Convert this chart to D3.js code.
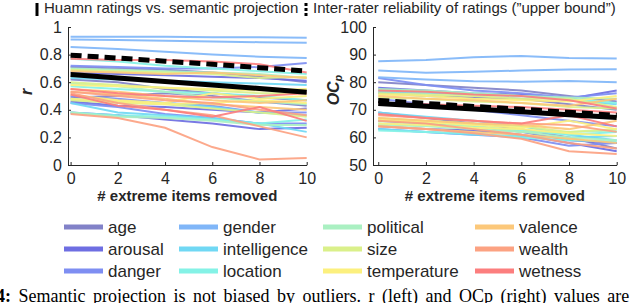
<!DOCTYPE html>
<html>
<head>
<meta charset="utf-8">
<script src="https://cdn.jsdelivr.net/npm/d3@7"></script>
<style>
body {margin:0; background:#fff;}
svg {display:block; font-family:"Liberation Sans", Arial, sans-serif;}
</style>
</head>
<body>
<svg id="chart" width="640" height="303"></svg>
<script>

//x positions (number of extreme items removed)
var x_steps = [0, 2, 4, 6, 8, 10];

//features and their colours (legend order)
var features = ["age", "arousal", "danger", "gender", "intelligence", "location",
                "political", "size", "temperature", "valence", "wealth", "wetness"];
var feature_colours = ["#8282c8", "#6e6ee2", "#7e8ef2", "#80b6f8", "#70d8f4", "#84f2e6",
                       "#aaf0c2", "#daf08a", "#fcf07e", "#fcc87a", "#fca282", "#fc7e7e"];

//left panel - r values, one array per feature (several category lines each)
var r_age = [[0.71, 0.70, 0.69, 0.67, 0.64, 0.60], [0.49, 0.50, 0.52, 0.50, 0.46, 0.43], [0.62, 0.60, 0.55, 0.52, 0.49, 0.47]];
var r_arousal = [[0.67, 0.66, 0.65, 0.64, 0.63, 0.61], [0.46, 0.43, 0.42, 0.40, 0.38, 0.41], [0.38, 0.36, 0.33, 0.30, 0.26, 0.27]];
var r_danger = [[0.72, 0.71, 0.70, 0.70, 0.71, 0.74], [0.50, 0.48, 0.45, 0.43, 0.38, 0.38], [0.45, 0.42, 0.37, 0.34, 0.30, 0.30]];
var r_gender = [[0.93, 0.93, 0.93, 0.925, 0.925, 0.922], [0.91, 0.905, 0.90, 0.895, 0.89, 0.885], [0.855, 0.84, 0.82, 0.80, 0.785, 0.775]];
var r_intelligence = [[0.63, 0.62, 0.61, 0.60, 0.59, 0.58], [0.48, 0.46, 0.45, 0.42, 0.38, 0.36], [0.45, 0.38, 0.36, 0.34, 0.30, 0.24]];
var r_location = [[0.77, 0.75, 0.72, 0.70, 0.68, 0.66], [0.57, 0.55, 0.53, 0.52, 0.50, 0.47], [0.38, 0.36, 0.35, 0.33, 0.30, 0.33]];
var r_political = [[0.70, 0.69, 0.68, 0.67, 0.66, 0.63], [0.59, 0.57, 0.53, 0.49, 0.46, 0.44], [0.38, 0.35, 0.34, 0.32, 0.29, 0.29]];
var r_size = [[0.69, 0.68, 0.67, 0.66, 0.63, 0.64], [0.60, 0.58, 0.56, 0.54, 0.52, 0.52], [0.47, 0.45, 0.44, 0.41, 0.38, 0.35]];
var r_temperature = [[0.58, 0.57, 0.56, 0.55, 0.54, 0.55], [0.51, 0.47, 0.45, 0.52, 0.48, 0.50], [0.48, 0.46, 0.44, 0.45, 0.47, 0.45]];
var r_valence = [[0.68, 0.67, 0.66, 0.67, 0.65, 0.63], [0.55, 0.53, 0.50, 0.47, 0.45, 0.47], [0.53, 0.51, 0.48, 0.44, 0.42, 0.40]];
var r_wealth = [[0.37, 0.34, 0.27, 0.13, 0.04, 0.05], [0.53, 0.50, 0.47, 0.45, 0.40, 0.36], [0.52, 0.45, 0.40, 0.36, 0.28, 0.20]];
var r_wetness = [[0.77, 0.76, 0.76, 0.75, 0.73, 0.67], [0.51, 0.43, 0.40, 0.35, 0.42, 0.32], [0.55, 0.52, 0.50, 0.49, 0.50, 0.52]];
var r_mean = [0.655, 0.63, 0.605, 0.58, 0.555, 0.528];
var r_bound = [0.796, 0.775, 0.752, 0.73, 0.705, 0.68];
var r_ticks = [0, 0.2, 0.4, 0.6, 0.8, 1];

//right panel - OCp values
var ocp_age = [[80, 79, 78, 77, 75, 73], [69, 67, 65, 63, 60, 56], [76, 75, 74.5, 74, 72, 70]];
var ocp_arousal = [[78, 77, 76, 75.5, 74, 77], [66, 65, 64, 62, 59, 58], [64, 63, 62.5, 61, 58, 55]];
var ocp_danger = [[81.5, 79, 77, 76, 74.5, 76], [74, 72, 70, 68, 66, 64], [63, 62, 61, 60, 57, 58]];
var ocp_gender = [[87.6, 88, 89, 89.5, 88.8, 88.6], [84.2, 83.4, 83.8, 84.2, 84.6, 84.7], [81.8, 81, 80.3, 80.2, 80.4, 80]];
var ocp_intelligence = [[76.5, 76, 75.5, 75, 73.5, 72], [69, 67.5, 66, 64, 61, 59], [63, 62, 61, 60.5, 60, 60.5]];
var ocp_location = [[77, 76.5, 76, 75, 74, 72.5], [65, 64.5, 64, 62.5, 61, 62], [62.5, 62, 61.5, 60, 59, 58.5]];
var ocp_political = [[77.5, 77, 76, 75, 74.5, 74], [66, 65.5, 64, 62, 62, 62.5], [64.5, 64, 63, 62, 60, 59]];
var ocp_size = [[76, 75.5, 75, 74, 74, 71], [67, 66, 65, 64, 62, 63], [74.5, 74, 73, 72.5, 71, 70.5]];
var ocp_temperature = [[75.5, 75, 74, 73.5, 73, 75], [66.5, 65.5, 64.5, 63.5, 66, 63], [65, 64.5, 63.5, 63, 61.5, 60.5]];
var ocp_valence = [[75, 74, 73.5, 72.5, 71.5, 74], [64, 63, 62, 61, 59.5, 58], [67, 66, 65, 64.5, 63, 66]];
var ocp_wealth = [[66, 65, 63, 61, 58, 56], [64, 63, 61.5, 59.5, 55, 54], [68, 67, 66, 65, 64.5, 62]];
var ocp_wetness = [[68.5, 67, 66, 65, 68, 64], [77, 76.5, 75.5, 75, 73.5, 70.5], [72.5, 72, 71.5, 71, 70, 69]];
var ocp_mean = [72.3, 71.3, 70.3, 69.3, 68.2, 67.2];
var ocp_bound = [73.4, 72.3, 71.2, 70.2, 69.1, 68];
var ocp_ticks = [50, 60, 70, 80, 90, 100];

var text_colour = "#262626";

//build line tables from the arrays above
function make_lines(groups) {
    var out = [];
    groups.forEach(function(g, i) {
        g.forEach(function(v) { out.push({feature: features[i], colour: feature_colours[i], values: v}); });
    });
    return out;
}
var r_lines = make_lines([r_age, r_arousal, r_danger, r_gender, r_intelligence, r_location,
                          r_political, r_size, r_temperature, r_valence, r_wealth, r_wetness]);
var ocp_lines = make_lines([ocp_age, ocp_arousal, ocp_danger, ocp_gender, ocp_intelligence, ocp_location,
                            ocp_political, ocp_size, ocp_temperature, ocp_valence, ocp_wealth, ocp_wetness]);

var svg = d3.select("#chart");

function draw_panel(p) {

    var x_scale = d3.scaleLinear().domain([p.x_min, 10]).range([p.axis_x, p.right]);
    var y_scale = d3.scaleLinear().domain(p.domain).range([165, 27]);

    var g = svg.append("g").attr("class", "panel");

    //category lines first, then mean and bound on top
    var line = d3.line()
        .x(function(d, i) { return x_scale(x_steps[i]); })
        .y(function(d) { return y_scale(d); });

    g.append("g").selectAll("path")
        .data(p.lines)
        .enter().append("path")
        .attr("d", function(d) { return line(d.values); })
        .attr("fill", "none")
        .attr("stroke", function(d) { return d.colour; })
        .attr("stroke-width", 2)
        .attr("stroke-opacity", 0.92);

    g.append("path")
        .attr("d", line(p.mean))
        .attr("fill", "none")
        .attr("stroke", "#000")
        .attr("stroke-width", 5);

    g.append("path")
        .attr("d", line(p.bound))
        .attr("fill", "none")
        .attr("stroke", "#000")
        .attr("stroke-width", 5)
        .attr("stroke-dasharray", "11,6");

    //axes - matlab style, ticks pointing in
    var y_axis = d3.axisLeft(y_scale).tickValues(p.ticks).tickSizeInner(-3).tickSizeOuter(0).tickPadding(6).tickFormat(p.fmt);
    var x_axis = d3.axisBottom(x_scale).tickValues(x_steps).tickSizeInner(-3).tickSizeOuter(0).tickPadding(8);

    var ya = g.append("g").attr("transform", "translate(" + p.axis_x + ",0)").call(y_axis);
    var xa = g.append("g").attr("transform", "translate(0,165)").call(x_axis);

    [ya, xa].forEach(function(a) {
        a.selectAll("path, line").attr("stroke", text_colour);
        a.selectAll("text").attr("fill", text_colour).style("font-size", "16px").style("font-family", "'Liberation Sans', Arial, sans-serif");
    });

    g.append("text")
        .attr("x", (p.axis_x + p.right) / 2)
        .attr("y", 201)
        .attr("text-anchor", "middle")
        .attr("fill", text_colour)
        .style("font-size", "15px")
        .style("font-weight", "bold")
        .text("# extreme items removed");

    //title with line-style marker
    var marker = g.append("line")
        .attr("x1", p.title_x - 7).attr("x2", p.title_x - 7)
        .attr("y1", 3).attr("y2", 16)
        .attr("stroke", "#000")
        .attr("stroke-width", 3);
    if (p.dashed) marker.attr("stroke-dasharray", "3,2");

    g.append("text")
        .attr("x", p.title_x)
        .attr("y", 13)
        .attr("fill", text_colour)
        .style("font-size", "15px")
        .text(p.title);

    return g;
}

var left = draw_panel({
    axis_x: 68, right: 306.7, x_min: -0.11, domain: [0, 1], ticks: r_ticks,
    fmt: d3.format("~g"), lines: r_lines, mean: r_mean, bound: r_bound,
    title: "Huamn ratings vs. semantic projection", title_x: 44, dashed: false
});

var right = draw_panel({
    axis_x: 373, right: 616.7, x_min: -0.22, domain: [50, 100], ticks: ocp_ticks,
    fmt: d3.format("d"), lines: ocp_lines, mean: ocp_mean, bound: ocp_bound,
    title: "Inter-rater reliability of ratings (\u201dupper bound\u201d)", title_x: 313, dashed: true
});

//y labels
left.append("text")
    .attr("transform", "translate(32,92) rotate(-90)")
    .attr("text-anchor", "middle")
    .attr("fill", text_colour)
    .style("font-size", "16px")
    .style("font-weight", "bold")
    .style("font-style", "italic")
    .text("r");

var oc = right.append("text")
    .attr("transform", "translate(339,90) rotate(-90)")
    .attr("text-anchor", "middle")
    .attr("fill", text_colour)
    .style("font-size", "16px")
    .style("font-weight", "bold")
    .style("font-style", "italic");
oc.append("tspan").text("OC");
oc.append("tspan").attr("dy", 3).style("font-size", "11px").text("p");

//legend - 4 columns x 3 rows
var legend_cols = [64, 179, 323, 475];
var legend = svg.append("g").attr("class", "legend");
features.forEach(function(f, i) {
    var col = Math.floor(i / 3), row = i % 3;
    var lx = legend_cols[col], ly = 227 + row * 22;
    legend.append("line")
        .attr("x1", lx).attr("x2", lx + 39)
        .attr("y1", ly).attr("y2", ly)
        .attr("stroke", feature_colours[i])
        .attr("stroke-width", 5);
    legend.append("text")
        .attr("x", lx + 44)
        .attr("y", ly + 6)
        .attr("fill", text_colour)
        .style("font-size", "17px")
        .text(f);
});

//caption (cut off at the figure edge, justified so words are spread)
var cap = svg.append("text")
    .attr("x", -4)
    .attr("y", 302)
    .attr("fill", "#000")
    .style("font-family", "'Liberation Serif', 'Times New Roman', serif")
    .style("font-size", "18px")
    .style("word-spacing", "3px");
cap.append("tspan").style("font-weight", "bold").text("4:");
cap.append("tspan").text(" Semantic projection is not biased by outliers. r (left) and OCp (right) values are");

</script>
</body>
</html>
